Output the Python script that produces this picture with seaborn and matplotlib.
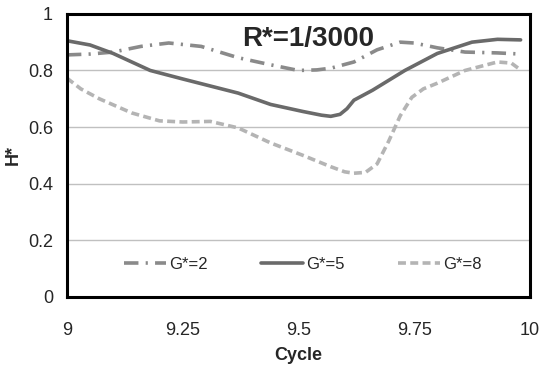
import matplotlib
matplotlib.use("Agg")
import matplotlib.pyplot as plt
import seaborn as sns
import pandas as pd

# G*=2 (dash-dot)
x_g2 = [9.0, 9.05, 9.10, 9.16, 9.22, 9.29, 9.37, 9.44, 9.50, 9.54, 9.57, 9.62, 9.67, 9.72, 9.75, 9.80, 9.86, 9.93, 9.98]
h_g2 = [0.855, 0.858, 0.865, 0.885, 0.897, 0.885, 0.845, 0.82, 0.80, 0.802, 0.808, 0.83, 0.873, 0.90, 0.897, 0.88, 0.865, 0.862, 0.858]

# G*=5 (solid)
x_g5 = [9.0, 9.05, 9.10, 9.18, 9.25, 9.31, 9.37, 9.44, 9.51, 9.55, 9.57, 9.59, 9.605, 9.62, 9.66, 9.73, 9.80, 9.875, 9.93, 9.98]
h_g5 = [0.905, 0.89, 0.86, 0.80, 0.77, 0.745, 0.72, 0.68, 0.655, 0.642, 0.638, 0.645, 0.665, 0.695, 0.73, 0.80, 0.86, 0.90, 0.91, 0.908]

# G*=8 (dashed)
x_g8 = [9.0, 9.03, 9.07, 9.14, 9.20, 9.25, 9.31, 9.37, 9.44, 9.51, 9.57, 9.60, 9.62, 9.645, 9.67, 9.695, 9.72, 9.745, 9.77, 9.80, 9.86, 9.93, 9.96, 9.975]
h_g8 = [0.773, 0.735, 0.70, 0.65, 0.622, 0.618, 0.62, 0.597, 0.544, 0.50, 0.46, 0.442, 0.437, 0.44, 0.47, 0.55, 0.64, 0.705, 0.735, 0.755, 0.80, 0.83, 0.826, 0.808]

labels = ["G*=2", "G*=5", "G*=8"]
x_ticks = [9, 9.25, 9.5, 9.75, 10]
x_tick_labels = ["9", "9.25", "9.5", "9.75", "10"]
y_ticks = [0, 0.2, 0.4, 0.6, 0.8, 1]
y_tick_labels = ["0", "0.2", "0.4", "0.6", "0.8", "1"]

sns.set_style("white")
plt.rcParams['font.family'] = ['Liberation Sans', 'DejaVu Sans']

fig = plt.figure(figsize=(5.44, 3.74), dpi=100)
ax = fig.add_axes([0.123, 0.206, 0.851, 0.757])

series = [
    (x_g2, h_g2, labels[0], "#8a8a8a", (0, (4, 2, 0.6, 2))),
    (x_g5, h_g5, labels[1], "#6a6a6a", "-"),
    (x_g8, h_g8, labels[2], "#b4b4b4", (0, (2.2, 1.2))),
]
for xs, hs, lab, col, ls in series:
    df = pd.DataFrame({"Cycle": xs, "H": hs})
    sns.lineplot(data=df, x="Cycle", y="H", ax=ax, color=col, linewidth=2.6,
                 linestyle=ls, label=lab)

ax.set_xlim(9, 10)
ax.set_ylim(0, 1)
ax.set_xticks(x_ticks)
ax.set_xticklabels(x_tick_labels)
ax.set_yticks(y_ticks)
ax.set_yticklabels(y_tick_labels)
ax.yaxis.grid(True, color="#c0c0c0", linewidth=1)
ax.set_axisbelow(True)
for s in ax.spines.values():
    s.set_color("black")
    s.set_linewidth(2.2)
ax.tick_params(axis="x", direction="in", length=4, color="#999999", labelsize=13, pad=18)
ax.tick_params(axis="y", length=0, labelsize=13, pad=10)
ax.set_xlabel("Cycle", fontsize=13, fontweight="bold", labelpad=6)
ax.set_ylabel("H*", fontsize=13, fontweight="bold")
ax.yaxis.set_label_coords(-0.098, 0.5)

ax.text(0.52, 0.91, "R*=1/3000", transform=ax.transAxes, ha="center", va="center",
        fontsize=20, fontweight="bold")

leg = ax.legend(loc="center", bbox_to_anchor=(0.51, 0.115), ncol=3, frameon=False,
                fontsize=12, handlelength=2.5, handletextpad=0.2, columnspacing=3.2)

fig.savefig("out.png", dpi=100)
